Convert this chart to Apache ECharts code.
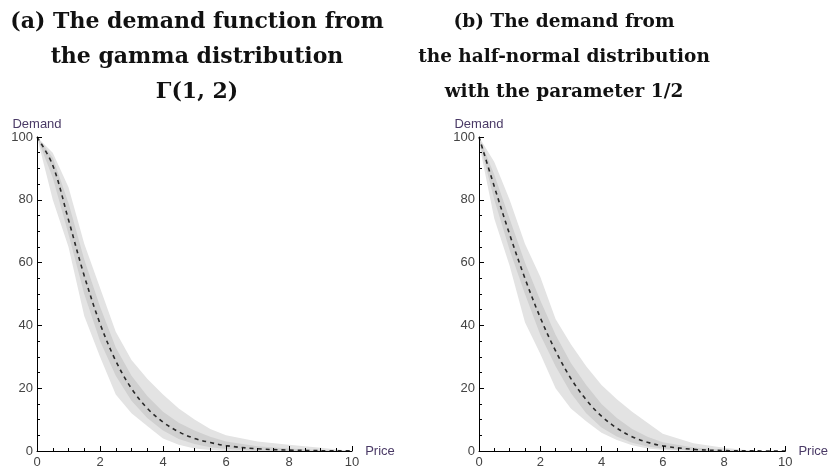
<!DOCTYPE html>
<html>
<head>
<meta charset="utf-8">
<script src="https://cdn.jsdelivr.net/npm/echarts@6/dist/echarts.min.js"></script>
<style>
  html, body { margin: 0; padding: 0; background: #fff; }
  #chart { width: 831px; height: 471px; }
</style>
</head>
<body>
<div id="chart"></div>
<script>
// price grid shared by every curve
const price = [0, 0.5, 1, 1.5, 2, 2.5, 3, 3.5, 4, 4.5, 5, 5.5, 6, 7, 8, 9, 10]

// (a) gamma distribution: mean demand (dashed) and the spread of the simulated paths
const gammaMean = [100, 91, 73.6, 55.8, 40.6, 28.7, 19.9, 13.6, 9.2, 6.1, 4.0, 2.7, 1.7, 0.7, 0.3, 0.1, 0.05]
const gammaOuterHi = [100, 95, 84, 66, 52, 38, 29, 23, 18, 13.5, 10, 7, 5, 3, 2, 1, 0]
const gammaOuterLo = [100, 80, 65, 43, 30, 18, 12, 8, 4, 2, 0.8, 0.3, 0, 0, 0, 0, 0]
const gammaInnerHi = [100, 93.5, 79, 61, 46, 33, 24, 17.5, 12.5, 9, 6.5, 4.5, 3, 1.5, 0.8, 0.3, 0]
const gammaInnerLo = [100, 87, 69, 50, 35, 24, 16, 10.5, 6.5, 3.8, 2.2, 1.2, 0.6, 0.1, 0, 0, 0]

// (b) half-normal distribution
const halfMean = [100, 84.2, 69.0, 55.0, 42.5, 31.9, 23.1, 16.3, 11.1, 7.3, 4.55, 2.78, 1.64, 0.52, 0.14, 0.03, 0]
const halfOuterHi = [100, 92, 80, 66, 55.5, 42, 34, 27, 21, 16.5, 12.5, 9, 5.5, 2.5, 1, 0, 0]
const halfOuterLo = [98, 74, 59, 41, 31, 20, 13.5, 9.5, 5.8, 3.5, 1.8, 0.8, 0.3, 0, 0, 0, 0]
const halfInnerHi = [100, 88, 74, 60, 48, 37, 28, 21, 15, 10.5, 7, 4.5, 2.8, 1.1, 0.4, 0, 0]
const halfInnerLo = [99, 80, 64, 50, 37, 27, 18.5, 12, 7.5, 4.6, 2.6, 1.4, 0.7, 0.1, 0, 0, 0]

const titleA = '(a) The demand function from\nthe gamma distribution\nΓ(1, 2)'
const titleB = '(b) The demand from\nthe half-normal distribution\nwith the parameter 1/2'

const labelColor = '#444'
const nameColor = '#4a3a66'
const outerGray = '#e3e3e3'
const innerGray = '#d0d0d0'

const pairs = (ys) => price.map((p, i) => [p, ys[i]])

function makeAxes(idx) {
  const x = {
    type: 'value', gridIndex: idx, min: 0, max: 10, interval: 2,
    name: 'Price', nameLocation: 'end', nameGap: 7,
    nameTextStyle: { color: nameColor, fontSize: 13, fontFamily: 'Liberation Sans', verticalAlign: 'middle', align: 'left' },
    axisLine: { lineStyle: { color: '#000', width: 1 } },
    axisTick: { inside: true, length: 5, lineStyle: { color: '#000' } },
    minorTick: { show: true, splitNumber: 4, length: 3, lineStyle: { color: '#000' } },
    splitLine: { show: false },
    axisLabel: { color: labelColor, fontSize: 13, fontFamily: 'Liberation Sans', margin: 5 },
    z: 5
  }
  const y = {
    type: 'value', gridIndex: idx, min: 0, max: 100, interval: 20,
    name: 'Demand', nameLocation: 'end', nameGap: 6,
    nameTextStyle: { color: nameColor, fontSize: 13, fontFamily: 'Liberation Sans', align: 'center' },
    axisLine: { show: true, lineStyle: { color: '#000', width: 1 } },
    axisTick: { show: true, inside: true, length: 5, lineStyle: { color: '#000' } },
    minorTick: { show: true, splitNumber: 4, length: 3, lineStyle: { color: '#000' } },
    splitLine: { show: false },
    axisLabel: { color: labelColor, fontSize: 13, fontFamily: 'Liberation Sans', margin: 4 },
    z: 5
  }
  return { x, y }
}

// filled area under a curve; painting them in order builds the two-tone band
function fill(idx, ys, color) {
  return {
    type: 'line', xAxisIndex: idx, yAxisIndex: idx,
    data: pairs(ys), showSymbol: false, silent: true,
    lineStyle: { opacity: 0 },
    areaStyle: { color: color, opacity: 1 }
  }
}

function band(idx, outerHi, innerHi, innerLo, outerLo) {
  return [
    fill(idx, outerHi, outerGray),
    fill(idx, innerHi, innerGray),
    fill(idx, innerLo, outerGray),
    fill(idx, outerLo, '#fff')
  ]
}

function meanLine(idx, ys) {
  return {
    type: 'line', xAxisIndex: idx, yAxisIndex: idx,
    data: pairs(ys), showSymbol: false, smooth: 0.35, silent: true,
    lineStyle: { color: '#2a2a2a', width: 1.6, type: [4, 4] },
    z: 4
  }
}

const axA = makeAxes(0)
const axB = makeAxes(1)

const titleStyle = (size) => ({
  fontFamily: 'DejaVu Serif', fontWeight: 'bold', fontSize: size,
  color: '#111', lineHeight: 35
})

const option = {
  animation: false,
  backgroundColor: '#fff',
  title: [
    { text: titleA, left: 192, top: 0, textAlign: 'center', textStyle: titleStyle(22) },
    { text: titleB, left: 559, top: 0, textAlign: 'center', textStyle: titleStyle(18.5) }
  ],
  grid: [
    { left: 37, right: 479, top: 137, bottom: 20 },
    { left: 479, right: 38, top: 137, bottom: 20 }
  ],
  xAxis: [axA.x, axB.x],
  yAxis: [axA.y, axB.y],
  series: [
    ...band(0, gammaOuterHi, gammaInnerHi, gammaInnerLo, gammaOuterLo),
    meanLine(0, gammaMean),
    ...band(1, halfOuterHi, halfInnerHi, halfInnerLo, halfOuterLo),
    meanLine(1, halfMean)
  ]
}

const chart = echarts.init(document.getElementById('chart'), null, { renderer: 'canvas' })
chart.setOption(option)
</script>
</body>
</html>
